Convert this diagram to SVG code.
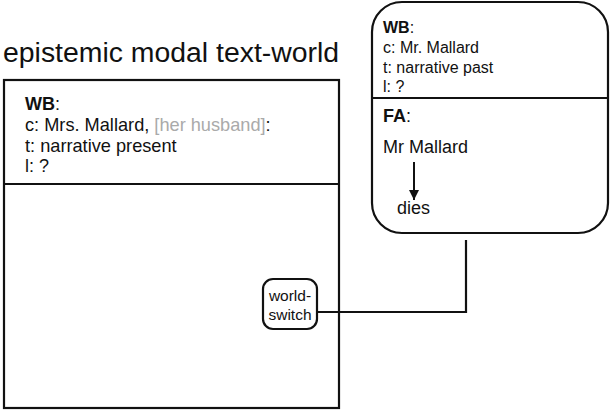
<svg xmlns="http://www.w3.org/2000/svg" width="610" height="417" viewBox="0 0 610 417">
<defs>
<style>
text{font-family:"Liberation Sans",Arial,sans-serif;fill:#111}
.box{fill:#fff;stroke:#111;stroke-width:2.2}
.ln{stroke:#111;stroke-width:2.2;fill:none}
.gray{fill:#aaa}
</style>
<marker id="ah" markerWidth="10" markerHeight="10" refX="10" refY="5" orient="auto" markerUnits="userSpaceOnUse" viewBox="0 0 10 10">
<path d="M0,0 L10,5 L0,10 Z" fill="#111"/>
</marker>
</defs>
<rect width="610" height="417" fill="#fff"/>
<text x="3" y="62" font-size="28.4">epistemic modal text-world</text>
<g id="main-world">
<rect x="4" y="80" width="335" height="328" class="box"/>
<line x1="4" y1="184" x2="339" y2="184" class="ln"/>
<text x="25" y="110" font-size="18"><tspan font-weight="bold">WB</tspan>:</text>
<text x="25" y="131" font-size="18.2">c: Mrs. Mallard, <tspan class="gray">[her husband]</tspan>:</text>
<text x="25" y="152" font-size="18.2">t: narrative present</text>
<text x="25" y="172" font-size="18">l: ?</text>
</g>
<g id="connectors">
<polyline points="317,312 466,312 466,240" class="ln"/>
</g>
<g id="sub-world">
<rect x="372" y="2" width="236" height="231" rx="30" ry="30" class="box"/>
<line x1="372" y1="98" x2="608" y2="98" class="ln"/>
<text x="383" y="33" font-size="16"><tspan font-weight="bold">WB</tspan>:</text>
<text x="383" y="53" font-size="16">c: Mr. Mallard</text>
<text x="383" y="73" font-size="16">t: narrative past</text>
<text x="383" y="92" font-size="16">l: ?</text>
<text x="383" y="122" font-size="18"><tspan font-weight="bold">FA</tspan>:</text>
<text x="383" y="153" font-size="18">Mr Mallard</text>
<line x1="414" y1="162" x2="414" y2="200" stroke="#111" stroke-width="2" marker-end="url(#ah)"/>
<text x="397" y="214" font-size="18">dies</text>
</g>
<g id="world-switch">
<rect x="263" y="279" width="54" height="50" rx="10" ry="10" class="box"/>
<text x="290" y="301" font-size="15.5" text-anchor="middle">world-</text>
<text x="290" y="320" font-size="15.5" text-anchor="middle">switch</text>
</g>
</svg>
